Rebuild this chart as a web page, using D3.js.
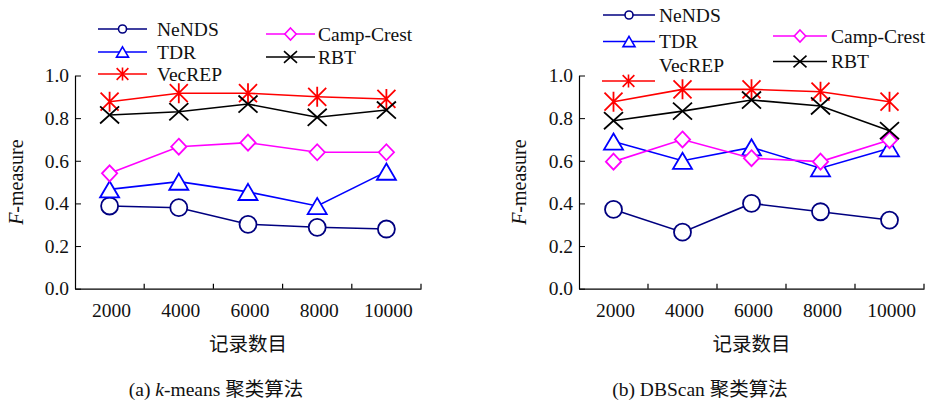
<!DOCTYPE html>
<html>
<head>
<meta charset="utf-8">
<script src="https://cdn.jsdelivr.net/npm/d3@7"></script>
<style>
  body { margin: 0; background: #fff; }
  svg { display: block; }
</style>
</head>
<body>
<svg width="931" height="403"></svg>
<script>
var FONT = "'Liberation Serif', 'Times New Roman', 'Noto Sans CJK SC', serif";

var categories = ["2000", "4000", "6000", "8000", "10000"];
var yTicks = [0, 0.2, 0.4, 0.6, 0.8, 1.0];

// (a) k-means
var kmNeNDS = [0.388, 0.38, 0.302, 0.288, 0.28];
var kmTDR = [0.466, 0.502, 0.454, 0.388, 0.549];
var kmCamp = [0.541, 0.666, 0.685, 0.64, 0.64];
var kmVecREP = [0.877, 0.917, 0.917, 0.9, 0.89];
var kmRBT = [0.815, 0.83, 0.866, 0.804, 0.838];

// (b) DBScan
var dbNeNDS = [0.372, 0.265, 0.4, 0.361, 0.322];
var dbTDR = [0.69, 0.6, 0.663, 0.565, 0.659];
var dbCamp = [0.596, 0.7, 0.612, 0.596, 0.697];
var dbVecREP = [0.877, 0.935, 0.935, 0.924, 0.877];
var dbRBT = [0.788, 0.833, 0.885, 0.857, 0.741];

var styles = {
  "NeNDS": { color: "#000080", marker: "circle" },
  "TDR": { color: "#0000ff", marker: "triangle" },
  "VecREP": { color: "#ff0000", marker: "star" },
  "Camp-Crest": { color: "#ff00ff", marker: "diamond" },
  "RBT": { color: "#000000", marker: "x" }
};
var bigSize = { circle: 8.5, triangle: 9.5, diamond: 8, x: 9.5, star: 10 };
var smallSize = { circle: 4, triangle: 6, diamond: 6, x: 6.5, star: 6.5 };

function markerPath(type, s) {
  if (type == "circle") return d3.symbol(d3.symbolCircle, Math.PI * s * s)();
  if (type == "triangle")
    return "M0," + (-s * 0.85) + "L" + s + "," + (s * 0.85) + "L" + (-s) + "," + (s * 0.85) + "Z";
  if (type == "diamond")
    return "M0," + (-s) + "L" + (s * 0.95) + ",0L0," + s + "L" + (-s * 0.95) + ",0Z";
  if (type == "x")
    return "M" + (-s) + "," + (-s * 0.9) + "L" + s + "," + (s * 0.9) +
      "M" + (-s) + "," + (s * 0.9) + "L" + s + "," + (-s * 0.9);
  // asterisk: vertical + two diagonals
  return "M0," + (-s) + "V" + s +
    "M" + (-s * 0.9) + "," + (-s * 0.9) + "L" + (s * 0.9) + "," + (s * 0.9) +
    "M" + (-s * 0.9) + "," + (s * 0.9) + "L" + (s * 0.9) + "," + (-s * 0.9);
}
function markerFill(type) {
  return (type == "x" || type == "star") ? "none" : "#fff";
}

var panels = [
  {
    x0: 75, x1: 421, caption: ["(a) ", "k", "-means 聚类算法"], capX: 216, ylabX: 22.5,
    series: [["NeNDS", kmNeNDS], ["TDR", kmTDR], ["Camp-Crest", kmCamp], ["VecREP", kmVecREP], ["RBT", kmRBT]],
    legend: [
      { name: "NeNDS", lx: [98, 147], ly: 29, tx: 157, ty: 29 },
      { name: "TDR", lx: [98, 147], ly: 52, tx: 157, ty: 52 },
      { name: "VecREP", lx: [98, 147], ly: 74, tx: 157, ty: 74 },
      { name: "Camp-Crest", lx: [266, 315], ly: 34, tx: 318, ty: 34 },
      { name: "RBT", lx: [266, 315], ly: 57, tx: 318, ty: 57 }
    ]
  },
  {
    x0: 579, x1: 924, caption: ["(b) DBScan 聚类算法"], capX: 700, ylabX: 526,
    series: [["NeNDS", dbNeNDS], ["TDR", dbTDR], ["Camp-Crest", dbCamp], ["VecREP", dbVecREP], ["RBT", dbRBT]],
    legend: [
      { name: "NeNDS", lx: [603, 655], ly: 15, tx: 659, ty: 15 },
      { name: "TDR", lx: [603, 655], ly: 41.5, tx: 659, ty: 41.5 },
      { name: "VecREP", lx: [602, 655], ly: 81, tx: 659, ty: 65 },
      { name: "Camp-Crest", lx: [773, 827], ly: 36, tx: 831, ty: 36 },
      { name: "RBT", lx: [773, 827], ly: 61.5, tx: 831, ty: 61.5 }
    ]
  }
];

var svg = d3.select("svg").attr("font-family", FONT);
var yTop = 75.5, yBottom = 288.7;
var y = d3.scaleLinear().domain([0, 1]).range([yBottom, yTop]);

panels.forEach(function (p) {
  var g = svg.append("g");
  var x = d3.scaleBand().domain(categories).range([p.x0, p.x1]).padding(0);
  var cx = function (c) { return x(c) + x.bandwidth() / 2; };

  // y axis
  var ya = g.append("g")
    .attr("transform", "translate(" + p.x0 + ",0)")
    .call(d3.axisLeft(y).tickValues(yTicks).tickFormat(d3.format(".1f"))
      .tickSizeInner(-6).tickSizeOuter(0).tickPadding(6));
  ya.attr("font-family", FONT).attr("font-size", "19.5px");
  ya.select(".domain").attr("stroke", "#000").attr("stroke-width", 1.2);
  ya.selectAll("text").attr("font-family", FONT).attr("fill", "#111");

  // x axis: labels at band centres, ticks at band edges
  var xa = g.append("g")
    .attr("transform", "translate(0," + yBottom + ")")
    .call(d3.axisBottom(x).tickSize(0).tickPadding(14));
  xa.attr("font-family", FONT).attr("font-size", "19.5px");
  xa.select(".domain").attr("stroke", "#000").attr("stroke-width", 1.2);
  xa.selectAll("text").attr("font-family", FONT).attr("dx", 2).attr("fill", "#111");
  var edges = categories.slice(1).map(function (c) { return x(c); }).concat([p.x1]);
  g.selectAll(".edge").data(edges).enter().append("line")
    .attr("x1", function (d) { return d; }).attr("x2", function (d) { return d; })
    .attr("y1", yBottom).attr("y2", yBottom - 5)
    .attr("stroke", "#000").attr("stroke-width", 1.2);

  // axis titles
  var yl = g.append("text")
    .attr("transform", "translate(" + p.ylabX + "," + ((yTop + yBottom) / 2) + ") rotate(-90)")
    .attr("text-anchor", "middle").attr("font-size", "20px").attr("fill", "#111");
  yl.append("tspan").attr("font-style", "italic").text("F");
  yl.append("tspan").text("-measure");

  g.append("text")
    .attr("x", (p.x0 + p.x1) / 2).attr("y", 351)
    .attr("text-anchor", "middle").attr("font-size", "19.5px").attr("fill", "#111")
    .text("记录数目");

  var cap = g.append("text")
    .attr("x", p.capX).attr("y", 396)
    .attr("text-anchor", "middle").attr("font-size", "19.5px").attr("fill", "#111");
  p.caption.forEach(function (t) {
    var ts = cap.append("tspan").text(t);
    if (t == "k") ts.attr("font-style", "italic");
  });

  // series
  var line = d3.line()
    .x(function (d, i) { return cx(categories[i]); })
    .y(function (d) { return y(d); });

  p.series.forEach(function (s) {
    var st = styles[s[0]];
    g.append("path").datum(s[1])
      .attr("d", line)
      .attr("fill", "none").attr("stroke", st.color).attr("stroke-width", 1.6);
    g.selectAll(".m-" + st.marker).data(s[1]).enter().append("path")
      .attr("class", "m-" + st.marker)
      .attr("transform", function (d, i) { return "translate(" + cx(categories[i]) + "," + y(d) + ")"; })
      .attr("d", markerPath(st.marker, bigSize[st.marker]))
      .attr("fill", markerFill(st.marker))
      .attr("stroke", st.color).attr("stroke-width", 1.8);
  });

  // legend
  var lg = g.selectAll(".leg").data(p.legend).enter().append("g").attr("class", "leg");
  lg.append("line")
    .attr("x1", function (d) { return d.lx[0]; }).attr("x2", function (d) { return d.lx[1]; })
    .attr("y1", function (d) { return d.ly; }).attr("y2", function (d) { return d.ly; })
    .attr("stroke", function (d) { return styles[d.name].color; }).attr("stroke-width", 1.6);
  lg.append("path")
    .attr("transform", function (d) { return "translate(" + ((d.lx[0] + d.lx[1]) / 2) + "," + d.ly + ")"; })
    .attr("d", function (d) { var m = styles[d.name].marker; return markerPath(m, smallSize[m]); })
    .attr("fill", function (d) { return markerFill(styles[d.name].marker); })
    .attr("stroke", function (d) { return styles[d.name].color; }).attr("stroke-width", 1.6);
  lg.append("text")
    .attr("x", function (d) { return d.tx; }).attr("y", function (d) { return d.ty; })
    .attr("dy", "0.35em").attr("font-size", "19.5px").attr("fill", "#111")
    .text(function (d) { return d.name; });
});
</script>
</body>
</html>
